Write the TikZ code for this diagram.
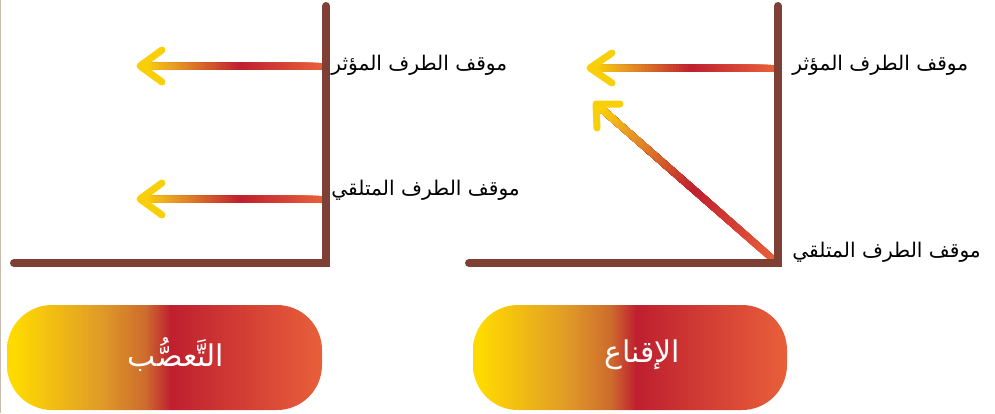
\documentclass[tikz,border=0pt]{standalone}
\usepackage{fontspec}
\usepackage{xcolor}
\usetikzlibrary{calc}
\newfontfamily\arabicfont[Script=Arabic]{DejaVu Sans}
\TeXXeTstate=1
\definecolor{frameBrown}{HTML}{7E3F35}
\definecolor{gradYellow}{HTML}{FFDA00}
\definecolor{gradOrange}{HTML}{EAA222}
\definecolor{gradRed}{HTML}{BF1F2F}
\definecolor{gradTail}{HTML}{E8603A}
\definecolor{pillOrange}{HTML}{E09A28}
\definecolor{pillAmber}{HTML}{CD6B2D}
\definecolor{headYellow}{HTML}{F9CF0A}
\definecolor{edgeGrey}{HTML}{C8BCAE}
\pgfdeclarehorizontalshading{pillshade}{100bp}{color(0bp)=(gradYellow); color(26bp)=(gradYellow); color(40bp)=(pillOrange); color(47bp)=(pillAmber); color(51bp)=(gradRed); color(75bp)=(gradTail); color(100bp)=(gradTail)}
% each piece runs on to the tip, the next one covers it
\newcommand{\shaftgrad}[2]{%
  \foreach \k in {0,...,59}{%
    \pgfmathsetmacro{\ta}{\k/60}%
    \pgfmathsetmacro{\tm}{(\k+0.5)/60}%
    \ifdim\tm pt<0.45pt
      \pgfmathsetmacro{\pc}{100*\tm/0.45}%
      \colorlet{segcol}{gradRed!\pc!gradTail}%
    \else\ifdim\tm pt<0.83pt
      \pgfmathsetmacro{\pc}{100*(\tm-0.45)/0.38}%
      \colorlet{segcol}{gradOrange!\pc!gradRed}%
    \else
      \pgfmathsetmacro{\pc}{100*(\tm-0.83)/0.17}%
      \colorlet{segcol}{gradYellow!\pc!gradOrange}%
    \fi\fi
    \draw[shaft, segcol] ($(#1)!\ta!(#2)$) -- (#2);
  }}
\tikzset{
  frame/.style={line width=1.6mm, frameBrown, line cap=round, line join=miter},
  shaft/.style={line width=1.4mm, line cap=butt},
  chevron/.style={line width=1.4mm, headYellow, line cap=round, line join=round},
  label/.style={anchor=west, inner sep=0pt, font=\arabicfont\fontsize{11.5}{13}\selectfont},
  pill/.style={shading=pillshade, rounded corners=9mm},
  pilltext/.style={text=white, inner sep=0pt, font=\arabicfont\fontsize{17}{20}\selectfont}
}
\begin{document}
\begin{tikzpicture}[x=0.2mm, y=-0.2mm]
  \useasboundingbox (0,0) rectangle (995,413);
  \draw[edgeGrey, line width=0.2mm] (0.6,0) -- (0.6,413);
  % left panel
  \coordinate (lTop) at (326,6);
  \coordinate (lCorner) at (326,263);
  \coordinate (lEnd) at (14,263);
  \coordinate (lUpTail) at (322,66);
  \coordinate (lUpTip) at (140,66);
  \coordinate (lLowTail) at (322,199);
  \coordinate (lLowTip) at (140,199);
  \shaftgrad{lUpTail}{lUpTip}
  \shaftgrad{lLowTail}{lLowTip}
  \draw[chevron] ($(lUpTip)+(22,-16)$) -- (lUpTip) -- ($(lUpTip)+(22,16)$);
  \draw[chevron] ($(lLowTip)+(22,-16)$) -- (lLowTip) -- ($(lLowTip)+(22,16)$);
  \draw[frame] (lTop) -- (lCorner) -- (lEnd);
  \node[label] (lUpLabel) at (331,65) {\beginR موقف الطرف المؤثر\endR};
  \node[label] (lLowLabel) at (331,190) {\beginR موقف الطرف المتلقي\endR};
  % right panel
  \coordinate (rTop) at (778,6);
  \coordinate (rCorner) at (778,263);
  \coordinate (rEnd) at (469,263);
  \coordinate (rUpTail) at (774,68);
  \coordinate (rUpTip) at (590,68);
  \coordinate (rDiagTail) at (774,260);
  \coordinate (rDiagTip) at (596,104);
  \shaftgrad{rUpTail}{rUpTip}
  \shaftgrad{rDiagTail}{rDiagTip}
  \draw[chevron] ($(rUpTip)+(22,-15)$) -- (rUpTip) -- ($(rUpTip)+(22,15)$);
  \draw[chevron] ($(rDiagTip)+(24,0)$) -- (rDiagTip) -- ($(rDiagTip)+(1,24)$);
  \draw[frame] (rTop) -- (rCorner) -- (rEnd);
  \node[label] (rUpLabel) at (792,65) {\beginR موقف الطرف المؤثر\endR};
  \node[label] (rLowLabel) at (792,252) {\beginR موقف الطرف المتلقي\endR};
  % pills
  \shade[pill] (7,305) rectangle (322,410);
  \shade[pill] (473,305) rectangle (787,410);
  \node[pilltext] (bias) at (176,355) {\beginR التَّعصُّب\endR};
  \node[pilltext] (persuasion) at (642,355) {\beginR الإقناع\endR};
\end{tikzpicture}
\end{document}
